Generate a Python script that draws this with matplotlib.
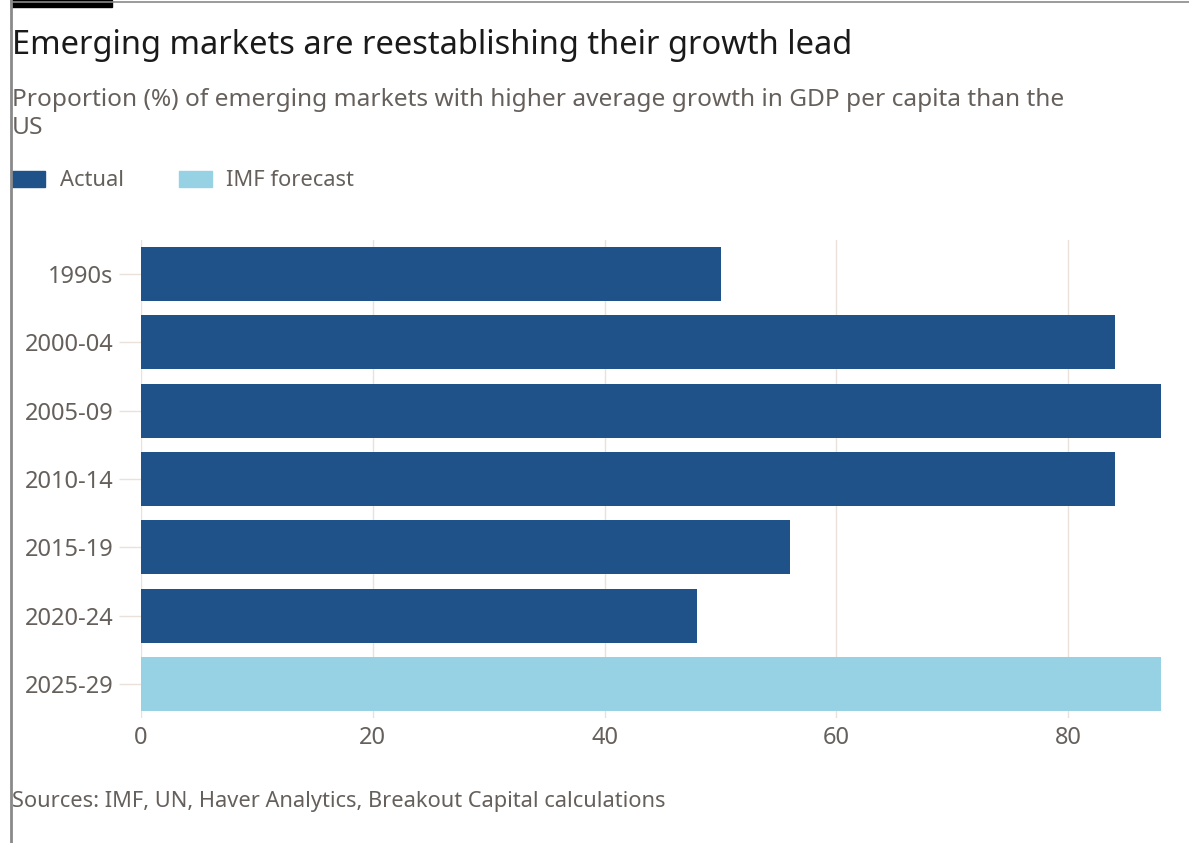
import matplotlib.pyplot as plt
from matplotlib.patches import Rectangle
from matplotlib.lines import Line2D

# 各时期新兴市场人均GDP增速高于美国的比例(%)
periods = ['1990s', '2000-04', '2005-09', '2010-14', '2015-19', '2020-24', '2025-29']
share = [50, 84, 88, 84, 56, 48, 88]
kind = ['Actual', 'Actual', 'Actual', 'Actual', 'Actual', 'Actual', 'IMF forecast']
x_ticks = [0, 20, 40, 60, 80]

colors = {'Actual': '#1f5289', 'IMF forecast': '#96d2e4'}
text_gray = '#66605c'
plt.rcParams['font.family'] = ['Noto Sans', 'DejaVu Sans']

W, H = 1189, 843
fig = plt.figure(figsize=(W / 100, H / 100), dpi=100)
fig.patch.set_facecolor('white')

def fx(px):
    return px / W

def fy(py):
    return 1 - py / H

# 外框和左上角的黑条
fig.add_artist(Line2D([fx(11), fx(11)], [0, 1], color='#8a8a8a', lw=2))
fig.add_artist(Line2D([fx(11), 1], [fy(1.5), fy(1.5)], color='#8a8a8a', lw=1.2))
fig.add_artist(Rectangle((fx(11), fy(7)), fx(101), 7 / H, color='black'))

# 标题和副标题
fig.text(fx(12), fy(45), 'Emerging markets are reestablishing their growth lead',
         fontsize=23.5, color='#1a1a1a', va='center')
fig.text(fx(12), fy(100), 'Proportion (%) of emerging markets with higher average growth in GDP per capita than the',
         fontsize=17.6, color=text_gray, va='center')
fig.text(fx(12), fy(128), 'US', fontsize=17.6, color=text_gray, va='center')

# 图例
fig.add_artist(Rectangle((fx(12), fy(187)), fx(33), 16 / H, color=colors['Actual']))
fig.text(fx(60), fy(180), 'Actual', fontsize=15.8, color=text_gray, va='center')
fig.add_artist(Rectangle((fx(179), fy(187)), fx(33), 16 / H, color=colors['IMF forecast']))
fig.text(fx(226), fy(180), 'IMF forecast', fontsize=15.8, color=text_gray, va='center')

# 来源
fig.text(fx(12), fy(802), 'Sources: IMF, UN, Haver Analytics, Breakout Capital calculations',
         fontsize=15.7, color=text_gray, va='center')

ax = fig.add_axes([fx(141), fy(718), fx(1161 - 141), (718 - 240) / H])
y = list(range(len(periods)))
ax.barh(y, share, height=0.79, color=[colors[k] for k in kind], zorder=3)
ax.set_xlim(0, 88)
ax.set_ylim(len(periods) - 0.5, -0.5)
ax.set_yticks(y)
ax.set_yticklabels(periods)
ax.set_xticks(x_ticks)
ax.grid(axis='x', color='#e9e1da', lw=1, zorder=0)
for s in ax.spines.values():
    s.set_visible(False)
ax.tick_params(axis='y', length=16, width=1, color='#e9e1da', pad=4, labelsize=17, labelcolor=text_gray)
ax.tick_params(axis='x', length=0, pad=6, labelsize=17, labelcolor=text_gray)

fig.savefig('out.png', dpi=100, facecolor='white')
